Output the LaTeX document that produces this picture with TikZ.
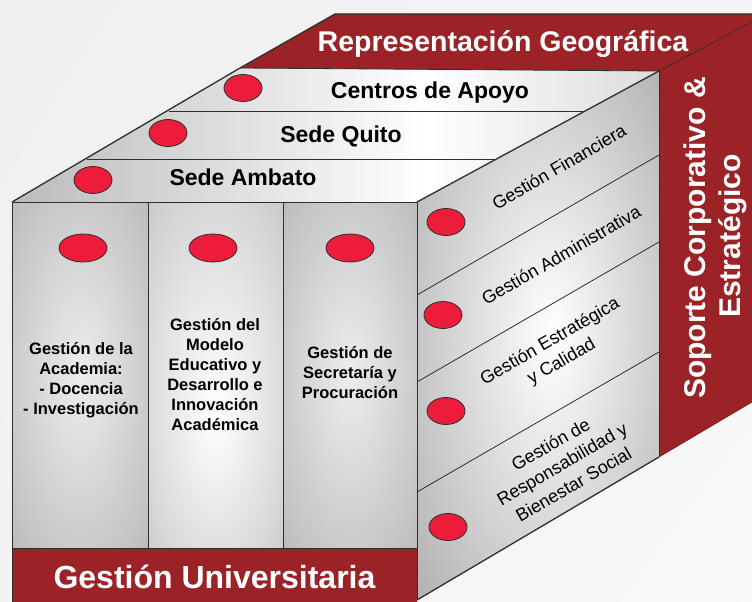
\documentclass[tikz,border=0pt]{standalone}
\usepackage{fontspec}
\setmainfont{Liberation Sans}
\usetikzlibrary{shapes.geometric,shadings}
\definecolor{cubered}{HTML}{9B2226}
\definecolor{dotred}{HTML}{EC1C3A}
\definecolor{edgec}{HTML}{2E2E2E}
\definecolor{facegray}{HTML}{BBBBBB}
\definecolor{gA}{HTML}{EDEDED}
\definecolor{gB}{HTML}{B6B6B6}
\definecolor{gC}{HTML}{C6C6C6}
\definecolor{gD}{HTML}{DCDCDC}
\definecolor{gE}{HTML}{ADADAD}
\pgfdeclareradialshading{colside}{\pgfpoint{0bp}{0bp}}{color(0bp)=(gA); color(40bp)=(gB); color(50bp)=(gB)}
\pgfdeclareradialshading{colmid}{\pgfpoint{0bp}{-6bp}}{color(0bp)=(white); color(40bp)=(gC); color(50bp)=(gC)}
\pgfdeclareradialshading{rightsh}{\pgfpoint{3bp}{0bp}}{color(0bp)=(white); color(38bp)=(gE); color(50bp)=(gE)}
\pgfdeclarehorizontalshading{topsh}{100bp}{color(0bp)=(facegray); color(25bp)=(facegray); color(57bp)=(white); color(75bp)=(gD); color(100bp)=(gD)}
\begin{document}
\begin{tikzpicture}[x=1pt,y=-1pt,
  dot/.style={ellipse, draw=edgec, line width=0.8pt, fill=dotred, minimum width=38pt, minimum height=27pt, inner sep=0pt},
  bigdot/.style={dot, minimum width=48pt, minimum height=28pt},
  toplbl/.style={font=\bfseries\fontsize{23}{27}\selectfont, text=black, anchor=base, inner sep=0pt},
  bandlbl/.style={font=\bfseries\fontsize{28.5}{34}\selectfont, text=white, anchor=base, inner sep=0pt},
  collbl/.style={font=\bfseries\fontsize{16.5}{20}\selectfont, align=center, inner sep=0pt},
  sidelbl/.style={font=\fontsize{18}{23}\selectfont, rotate=30, align=center, inner sep=0pt},
  edgeline/.style={draw=edgec, line width=0.8pt},
  outline/.style={draw=edgec, line width=1.3pt}]
\useasboundingbox (0,0) rectangle (752,602);
% background
\shade[upper left=white!88!gray, upper right=white!92!gray, lower left=white!90!gray, lower right=white!95!gray] (0,0) rectangle (752,602);
% top face
\shade[shading=topsh] (12,202) -- (240,68) -- (659,71) -- (417,202) -- cycle;
% front face columns
\shade[shading=colside] (12,202) rectangle (148,548);
\shade[shading=colmid] (148,202) rectangle (283,548);
\shade[shading=colside] (283,202) rectangle (417,548);
% right face
\shade[shading=rightsh] (417,202) -- (659,71) -- (659,457) -- (417,600) -- cycle;
% red bands
\fill[cubered] (240,68) -- (335,14) -- (752,14) -- (752,22) -- (659,71) -- cycle;
\fill[cubered] (659,71) -- (752,22) -- (752,402) -- (659,457) -- cycle;
\fill[cubered] (12,548) rectangle (417,602);
% lines
\path[outline] (12,202) -- (240,68) -- (335,14) -- (752,14);
\path[edgeline] (240,68) -- (659,71) -- (752,22);
\path[edgeline] (87,159) -- (495,159);
\path[edgeline] (169,111) -- (585,111);
\path[edgeline] (12,602) -- (12,202) -- (417,202) -- (417,600);
\path[edgeline] (148,202) -- (148,548);
\path[edgeline] (283,202) -- (283,548);
\path[edgeline] (12,548) -- (417,548);
\path[outline] (417,202) -- (659,71);
\path[edgeline] (659,71) -- (659,457);
\path[edgeline] (417,295) -- (659,155);
\path[edgeline] (417,382) -- (659,242);
\path[edgeline] (417,492) -- (659,352);
\path[outline] (417,600) -- (659,457);
\path[draw=cubered!70!black, line width=0.6pt] (659,457) -- (752,402);
% dots
\node[dot] (d1) at (93,180) {};
\node[dot] (d2) at (168,133) {};
\node[dot] (d3) at (243,88) {};
\node[bigdot] (d4) at (83,248) {};
\node[bigdot] (d5) at (213,248) {};
\node[bigdot] (d6) at (350,248) {};
\node[dot] (d7) at (446,222) {};
\node[dot] (d8) at (443,315) {};
\node[dot] (d9) at (446,411) {};
\node[dot] (d10) at (448,527) {};
% labels
\node[bandlbl] (rg) at (503,52) {Representación Geográfica};
\node[toplbl] (ca) at (430,98) {Centros de Apoyo};
\node[toplbl] (sq) at (341,142) {Sede Quito};
\node[toplbl] (sa) at (243,185) {Sede Ambato};
\node[bandlbl, font=\bfseries\fontsize{32}{38}\selectfont] (gu) at (214.5,588) {Gestión Universitaria};
\node[bandlbl, font=\bfseries\fontsize{30}{35}\selectfont, rotate=90] (sc1) at (705,238) {Soporte Corporativo \&};
\node[bandlbl, font=\bfseries\fontsize{30}{35}\selectfont, rotate=90] (sc2) at (740,236) {Estratégico};
\node[collbl] (c1) at (81,380) {Gestión de la\\Academia:\\- Docencia\\- Investigación};
\node[collbl] (c2) at (215,375) {Gestión del\\Modelo\\Educativo y\\Desarrollo e\\Innovación\\Académica};
\node[collbl] (c3) at (350,373) {Gestión de\\Secretaría y\\Procuración};
\node[sidelbl] (s1) at (559,167) {Gestión Financiera};
\node[sidelbl] (s2) at (561,255) {Gestión Administrativa};
\node[sidelbl] (s3) at (556,352) {Gestión Estratégica\\y Calidad};
\node[sidelbl] (s4) at (562,464) {Gestión de\\Responsabilidad y\\Bienestar Social};
\end{tikzpicture}
\end{document}
